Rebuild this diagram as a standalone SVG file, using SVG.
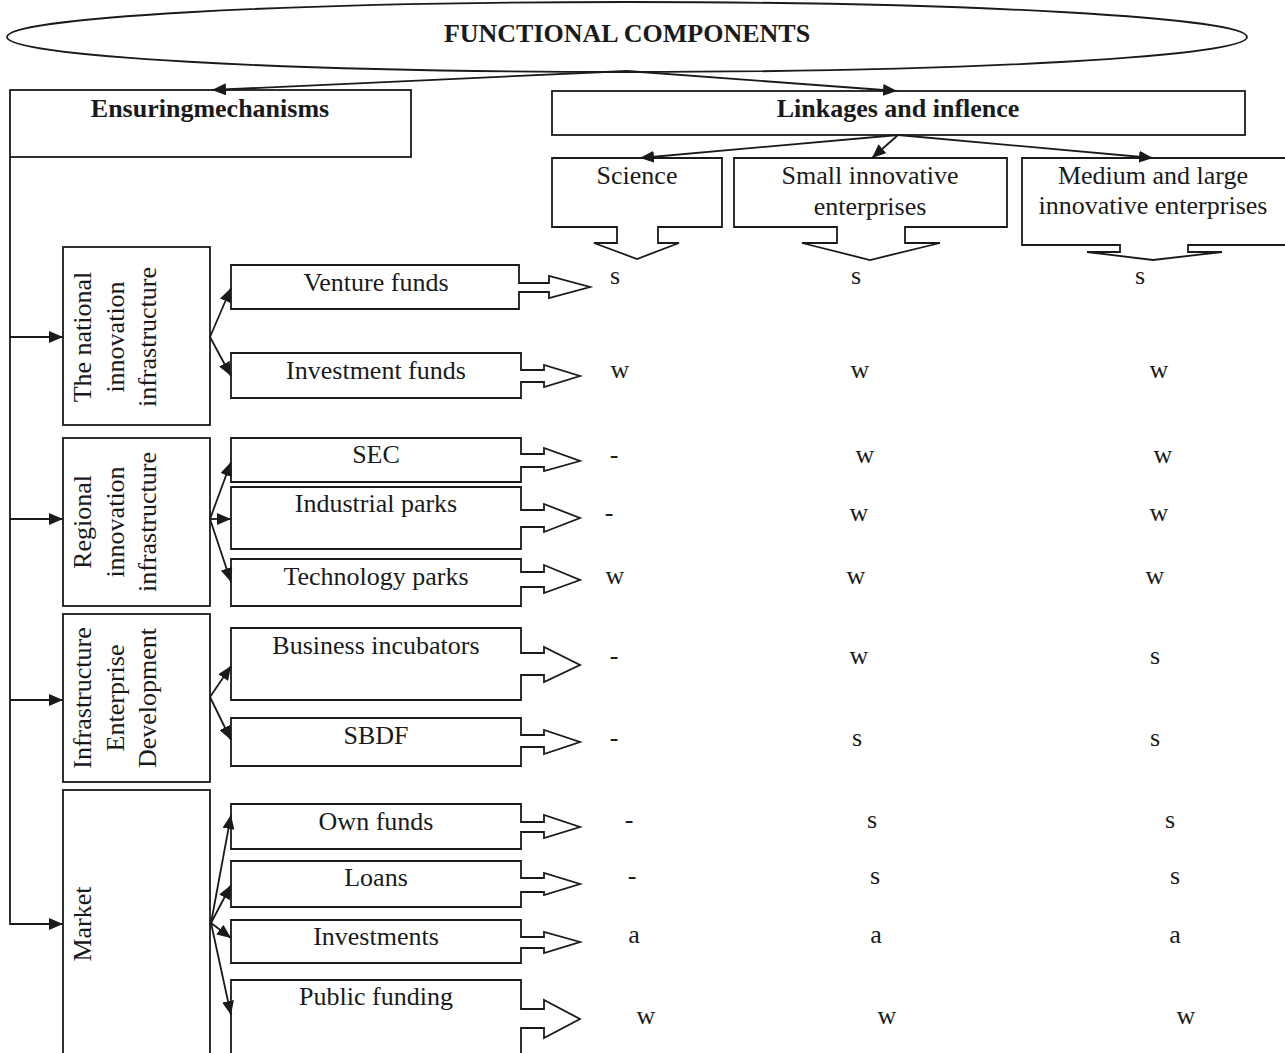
<svg xmlns="http://www.w3.org/2000/svg" width="1285" height="1053" viewBox="0 0 1285 1053">
<style>
.sh{fill:#fff;stroke:#1a1a1a;stroke-width:1.8}
.ln{fill:none;stroke:#1a1a1a;stroke-width:1.8}
text{font-family:"Liberation Serif","Times New Roman",serif;font-size:26px;fill:#1a1a1a}
.b{font-weight:bold}
.c{text-anchor:middle}
</style>
<defs>
<marker id="ah" markerUnits="userSpaceOnUse" markerWidth="14" markerHeight="12" refX="14" refY="6" orient="auto">
<path d="M0,0 L14,6 L0,12 Z" fill="#1a1a1a"/>
</marker>
</defs>
<rect width="1285" height="1053" fill="#fff"/>

<g id="functional-components">
<ellipse class="sh" cx="627" cy="37" rx="620" ry="35"/>
<text class="b c" x="627" y="42">FUNCTIONAL COMPONENTS</text>
</g>

<g id="ensuring">
<rect class="sh" x="10" y="90" width="401" height="67"/>
<text class="b c" x="210" y="117">Ensuringmechanisms</text>
</g>
<g id="linkages">
<rect class="sh" x="552" y="91" width="693" height="44"/>
<text class="b c" x="898" y="117">Linkages and inflence</text>
</g>

<g id="science">
<path class="sh" d="M552 158 H722 V227 H658 V243 H679 L637 259 L594 243 H617 V227 H552 Z"/>
<text class="c" x="637" y="184">Science</text>
</g>
<g id="small">
<path class="sh" d="M734 158 H1007 V227 H905 V243 H940 L870 260 L802 243 H837 V227 H734 Z"/>
<text class="c" x="870" y="184">Small innovative</text>
<text class="c" x="870" y="215">enterprises</text>
</g>
<g id="medium">
<path class="sh" d="M1022 158 H1292 V245 H1188 V252 H1222 L1153 260 L1087 252 H1120 V245 H1022 Z"/>
<text class="c" x="1153" y="184">Medium and large</text>
<text class="c" x="1153" y="214">innovative enterprises</text>
</g>

<g id="national">
<rect class="sh" x="63" y="247" width="147" height="178"/>
<text class="c" transform="translate(91,337) rotate(-90)">The national</text>
<text class="c" transform="translate(124,337) rotate(-90)">innovation</text>
<text class="c" transform="translate(156,337) rotate(-90)">infrastructure</text>
</g>
<g id="regional">
<rect class="sh" x="63" y="438" width="147" height="168"/>
<text class="c" transform="translate(91,522) rotate(-90)">Regional</text>
<text class="c" transform="translate(124,522) rotate(-90)">innovation</text>
<text class="c" transform="translate(156,522) rotate(-90)">infrastructure</text>
</g>
<g id="infrastructure">
<rect class="sh" x="63" y="614" width="147" height="168"/>
<text class="c" transform="translate(91,698) rotate(-90)">Infrastructure</text>
<text class="c" transform="translate(124,698) rotate(-90)">Enterprise</text>
<text class="c" transform="translate(156,698) rotate(-90)">Development</text>
</g>
<g id="market">
<rect class="sh" x="63" y="790" width="147" height="280"/>
<text class="c" transform="translate(91,924) rotate(-90)">Market</text>
</g>

<g id="venture-funds">
<path class="sh" d="M231 265 H519 V283 H549 V276 L590 287 L549 298 V292 H519 V309 H231 Z"/>
<text class="c" x="376" y="291">Venture funds</text>
</g>
<g id="investment-funds">
<path class="sh" d="M231 353 H521 V370 H544 V365 L580 376 L544 387 V382 H521 V398 H231 Z"/>
<text class="c" x="376" y="379">Investment funds</text>
</g>
<g id="sec">
<path class="sh" d="M231 438 H521 V454 H544 V448 L580 461 L544 471 V467 H521 V482 H231 Z"/>
<text class="c" x="376" y="463">SEC</text>
</g>
<g id="industrial-parks">
<path class="sh" d="M231 487 H521 V510 H544 V504 L580 518 L544 532 V527 H521 V549 H231 Z"/>
<text class="c" x="376" y="512">Industrial parks</text>
</g>
<g id="technology-parks">
<path class="sh" d="M231 559 H521 V572 H544 V565 L580 580 L544 593 V587 H521 V606 H231 Z"/>
<text class="c" x="376" y="585">Technology parks</text>
</g>
<g id="business-incubators">
<path class="sh" d="M231 628 H521 V653 H544 V647 L580 665 L544 682 V675 H521 V700 H231 Z"/>
<text class="c" x="376" y="654">Business incubators</text>
</g>
<g id="sbdf">
<path class="sh" d="M231 718 H521 V735 H544 V730 L580 742 L544 754 V747 H521 V766 H231 Z"/>
<text class="c" x="376" y="744">SBDF</text>
</g>
<g id="own-funds">
<path class="sh" d="M231 804 H521 V822 H544 V815 L580 827 L544 838 V832 H521 V849 H231 Z"/>
<text class="c" x="376" y="830">Own funds</text>
</g>
<g id="loans">
<path class="sh" d="M231 861 H521 V878 H544 V873 L580 884 L544 895 V892 H521 V907 H231 Z"/>
<text class="c" x="376" y="886">Loans</text>
</g>
<g id="investments">
<path class="sh" d="M231 920 H521 V937 H544 V932 L580 942 L544 953 V948 H521 V963 H231 Z"/>
<text class="c" x="376" y="945">Investments</text>
</g>
<g id="public-funding">
<path class="sh" d="M231 1070 V980 H521 V1009 H544 V1000 L580 1019 L544 1038 V1028 H521 V1070"/>
<text class="c" x="376" y="1005">Public funding</text>
</g>

<g id="connectors">
<line class="ln" x1="627" y1="71" x2="212" y2="90" marker-end="url(#ah)"/>
<line class="ln" x1="627" y1="71" x2="897" y2="91" marker-end="url(#ah)"/>
<line class="ln" x1="898" y1="135" x2="640" y2="158" marker-end="url(#ah)"/>
<line class="ln" x1="898" y1="135" x2="872" y2="158" marker-end="url(#ah)"/>
<line class="ln" x1="898" y1="135" x2="1153" y2="158" marker-end="url(#ah)"/>
<path class="ln" d="M10 157 V924 H63" marker-end="url(#ah)"/>
<line class="ln" x1="10" y1="337" x2="63" y2="337" marker-end="url(#ah)"/>
<line class="ln" x1="10" y1="519" x2="63" y2="519" marker-end="url(#ah)"/>
<line class="ln" x1="10" y1="700" x2="63" y2="700" marker-end="url(#ah)"/>
<line class="ln" x1="210" y1="337" x2="231" y2="288" marker-end="url(#ah)"/>
<line class="ln" x1="210" y1="337" x2="231" y2="376" marker-end="url(#ah)"/>
<line class="ln" x1="210" y1="519" x2="231" y2="462" marker-end="url(#ah)"/>
<line class="ln" x1="210" y1="519" x2="231" y2="519" marker-end="url(#ah)"/>
<line class="ln" x1="210" y1="519" x2="231" y2="582" marker-end="url(#ah)"/>
<line class="ln" x1="210" y1="697" x2="231" y2="666" marker-end="url(#ah)"/>
<line class="ln" x1="210" y1="697" x2="231" y2="740" marker-end="url(#ah)"/>
<line class="ln" x1="211" y1="923" x2="231" y2="815" marker-end="url(#ah)"/>
<line class="ln" x1="211" y1="923" x2="231" y2="885" marker-end="url(#ah)"/>
<line class="ln" x1="211" y1="923" x2="231" y2="938" marker-end="url(#ah)"/>
<line class="ln" x1="211" y1="923" x2="231" y2="1015" marker-end="url(#ah)"/>
</g>

<g id="ratings">
<text class="c" x="615" y="284">s</text><text class="c" x="856" y="284">s</text><text class="c" x="1140" y="284">s</text>
<text class="c" x="620" y="378">w</text><text class="c" x="860" y="378">w</text><text class="c" x="1159" y="378">w</text>
<text class="c" x="614" y="463">-</text><text class="c" x="865" y="463">w</text><text class="c" x="1163" y="463">w</text>
<text class="c" x="609" y="521">-</text><text class="c" x="859" y="521">w</text><text class="c" x="1159" y="521">w</text>
<text class="c" x="615" y="584">w</text><text class="c" x="856" y="584">w</text><text class="c" x="1155" y="584">w</text>
<text class="c" x="614" y="664">-</text><text class="c" x="859" y="664">w</text><text class="c" x="1155" y="664">s</text>
<text class="c" x="614" y="746">-</text><text class="c" x="857" y="746">s</text><text class="c" x="1155" y="746">s</text>
<text class="c" x="629" y="828">-</text><text class="c" x="872" y="828">s</text><text class="c" x="1170" y="828">s</text>
<text class="c" x="632" y="884">-</text><text class="c" x="875" y="884">s</text><text class="c" x="1175" y="884">s</text>
<text class="c" x="634" y="943">a</text><text class="c" x="876" y="943">a</text><text class="c" x="1175" y="943">a</text>
<text class="c" x="646" y="1024">w</text><text class="c" x="887" y="1024">w</text><text class="c" x="1186" y="1024">w</text>
</g>
</svg>
